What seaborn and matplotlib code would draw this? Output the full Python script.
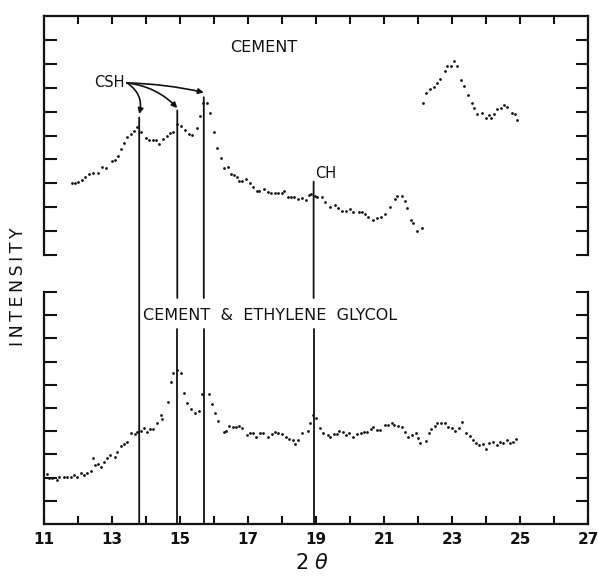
import numpy as np
import pandas as pd
import matplotlib
matplotlib.use("Agg")
import matplotlib.pyplot as plt
import seaborn as sns
from matplotlib.patches import ConnectionPatch
from matplotlib.ticker import FixedLocator

# ---------------- data ----------------
# Top panel (CEMENT), first pen segment
top1_x = [11.81, 11.91, 12.01, 12.11, 12.20, 12.33, 12.45, 12.60, 12.71, 12.82,
          12.99, 13.09, 13.18, 13.26, 13.34, 13.43, 13.55, 13.65, 13.74, 13.86,
          14.00, 14.10, 14.20, 14.29, 14.39, 14.51, 14.61, 14.71, 14.80, 14.90,
          15.02, 15.15, 15.26, 15.36, 15.49, 15.59, 15.69, 15.78, 15.88, 16.01,
          16.08, 16.20, 16.30, 16.40, 16.50, 16.60, 16.67, 16.74, 16.83, 16.93,
          17.06, 17.16, 17.26, 17.32, 17.48, 17.58, 17.68, 17.79, 17.89, 17.99,
          18.07, 18.17, 18.26, 18.36, 18.48, 18.58, 18.70, 18.79, 18.84, 18.97,
          19.04, 19.17, 19.26, 19.41, 19.56, 19.66, 19.76, 19.88, 20.00, 20.10,
          20.25, 20.34, 20.44, 20.54, 20.69, 20.79, 20.90, 21.03, 21.18, 21.32,
          21.39, 21.52, 21.62, 21.69, 21.79, 21.86, 21.98, 22.11]
top1_y = [3.03, 3.03, 3.07, 3.14, 3.26, 3.39, 3.42, 3.42, 3.67, 3.63,
          3.95, 3.97, 4.14, 4.42, 4.67, 4.92, 5.06, 5.20, 5.37, 5.16,
          4.88, 4.81, 4.81, 4.81, 4.64, 4.84, 4.98, 5.12, 5.16, 5.48,
          5.40, 5.23, 5.06, 5.02, 5.30, 5.82, 6.35, 6.35, 5.93, 5.16,
          4.46, 4.05, 3.63, 3.67, 3.39, 3.35, 3.25, 3.10, 3.11, 3.17,
          3.03, 2.83, 2.68, 2.68, 2.75, 2.62, 2.61, 2.61, 2.61, 2.58,
          2.68, 2.44, 2.41, 2.44, 2.33, 2.37, 2.30, 2.51, 2.54, 2.47,
          2.44, 2.41, 2.23, 2.02, 2.09, 1.95, 1.85, 1.85, 1.91, 1.81,
          1.81, 1.81, 1.72, 1.58, 1.46, 1.56, 1.60, 1.72, 2.02, 2.33,
          2.47, 2.47, 2.27, 1.95, 1.46, 1.32, 1.02, 1.12]

# Top panel, second pen segment (offset)
top2_x = [22.14, 22.23, 22.35, 22.47, 22.55, 22.65, 22.79, 22.86, 22.96, 23.06,
          23.16, 23.26, 23.35, 23.47, 23.58, 23.66, 23.73, 23.87, 23.99, 24.09,
          24.15, 24.24, 24.33, 24.44, 24.53, 24.63, 24.77, 24.85, 24.92]
top2_y = [6.37, 6.79, 6.93, 7.02, 7.18, 7.35, 7.71, 7.91, 7.91, 8.13,
          7.91, 7.32, 7.07, 6.69, 6.37, 6.14, 5.90, 5.93, 5.74, 5.86,
          5.72, 5.89, 6.10, 6.16, 6.26, 6.18, 5.95, 5.89, 5.65]

# Bottom panel (CEMENT & ETHYLENE GLYCOL)
bot_x = [11.08, 11.15, 11.24, 11.37, 11.44, 11.59, 11.69, 11.79, 11.88, 11.96,
         12.10, 12.18, 12.27, 12.37, 12.44, 12.49, 12.59, 12.67, 12.76, 12.86,
         12.94, 13.08, 13.16, 13.26, 13.35, 13.45, 13.57, 13.67, 13.74, 13.84,
         13.94, 14.02, 14.12, 14.21, 14.33, 14.43, 14.48, 14.65, 14.73, 14.80,
         14.90, 15.02, 15.12, 15.21, 15.31, 15.44, 15.56, 15.64, 15.86, 15.93,
         16.03, 16.11, 16.29, 16.35, 16.44, 16.55, 16.65, 16.74, 16.81, 16.96,
         17.06, 17.16, 17.24, 17.35, 17.45, 17.60, 17.70, 17.79, 17.89, 17.99,
         18.12, 18.21, 18.31, 18.38, 18.48, 18.60, 18.76, 18.82, 18.92, 18.99,
         19.12, 19.22, 19.34, 19.41, 19.54, 19.61, 19.69, 19.79, 19.88, 19.98,
         20.10, 20.22, 20.32, 20.41, 20.51, 20.62, 20.69, 20.79, 20.88, 21.03,
         21.13, 21.23, 21.30, 21.42, 21.54, 21.62, 21.72, 21.83, 21.94, 21.99,
         22.06, 22.23, 22.33, 22.38, 22.50, 22.57, 22.67, 22.79, 22.89, 23.01,
         23.09, 23.21, 23.29, 23.41, 23.53, 23.61, 23.70, 23.79, 23.90, 24.00,
         24.10, 24.21, 24.31, 24.41, 24.51, 24.61, 24.71, 24.80, 24.88]
bot_y = [2.14, 1.97, 1.97, 1.90, 2.04, 2.04, 2.04, 2.01, 2.11, 2.04,
         2.21, 2.11, 2.18, 2.30, 2.83, 2.54, 2.59, 2.47, 2.69, 2.83,
         2.97, 2.90, 3.12, 3.36, 3.45, 3.55, 3.91, 3.88, 3.98, 4.02,
         4.12, 3.98, 4.08, 4.08, 4.34, 4.70, 4.51, 5.27, 6.13, 6.50,
         6.64, 6.50, 5.63, 5.20, 4.94, 4.77, 4.88, 5.59, 5.60, 5.17,
         4.77, 4.45, 3.98, 4.02, 4.22, 4.19, 4.19, 4.22, 4.12, 3.84,
         3.91, 3.91, 3.74, 3.91, 3.91, 3.74, 3.88, 3.98, 3.94, 3.88,
         3.74, 3.65, 3.62, 3.45, 3.62, 3.91, 4.02, 4.37, 4.70, 4.56,
         4.15, 3.94, 3.84, 3.76, 3.88, 3.88, 4.02, 3.98, 3.84, 3.94,
         3.76, 3.87, 3.91, 3.98, 3.98, 4.08, 4.17, 4.05, 4.05, 4.27,
         4.27, 4.37, 4.27, 4.22, 4.17, 3.98, 3.74, 3.84, 3.94, 3.69,
         3.51, 3.59, 3.91, 4.08, 4.22, 4.34, 4.34, 4.37, 4.17, 4.15,
         4.01, 4.15, 4.41, 3.91, 3.79, 3.62, 3.50, 3.41, 3.44, 3.23,
         3.50, 3.55, 3.41, 3.55, 3.50, 3.62, 3.50, 3.55, 3.65]

# Peak markers
csh_x = [13.80, 14.92, 15.70]
csh_line_top = [5.75, 6.05, 6.60]
csh_arrow_tip = [5.90, 6.15, 6.80]
ch_x = 18.93
ch_line_top = 3.07

x_major = [11, 13, 15, 17, 19, 21, 23, 25, 27]
x_minor = [12, 14, 16, 18, 20, 22, 24, 26]

# ---------------- figure ----------------
sns.set_theme(style="white")
plt.rcParams["font.family"] = ["DejaVu Sans"]
INK = "#111111"

W, H = 599, 581
fig = plt.figure(figsize=(W / 100, H / 100), dpi=100)
ax_top = fig.add_axes([44 / W, 1 - 255 / H, 544 / W, 239 / H])
ax_bot = fig.add_axes([44 / W, 1 - 524 / H, 544 / W, 232 / H])

top_df = pd.DataFrame({"x": top1_x + top2_x, "y": top1_y + top2_y})
bot_df = pd.DataFrame({"x": bot_x, "y": bot_y})

sns.scatterplot(data=top_df, x="x", y="y", ax=ax_top, color=INK, s=4,
                linewidth=0, legend=False)
sns.scatterplot(data=bot_df, x="x", y="y", ax=ax_bot, color=INK, s=4,
                linewidth=0, legend=False)

for ax in (ax_top, ax_bot):
    ax.set_xlim(11, 27)
    ax.set_ylim(0, 10)
    ax.set_xlabel("")
    ax.set_ylabel("")
    for sp in ax.spines.values():
        sp.set_color(INK)
        sp.set_linewidth(1.6)

ax_top.spines["bottom"].set_visible(False)
ax_bot.spines["top"].set_visible(False)

# top panel ticks
ax_top.xaxis.set_major_locator(FixedLocator(list(range(12, 27))))
ax_top.tick_params(axis="x", which="both", bottom=False, top=True,
                   labelbottom=False, labeltop=False, direction="in",
                   length=6, width=1.5, color=INK)
ax_top.yaxis.set_major_locator(FixedLocator(list(range(0, 10))))
ax_top.tick_params(axis="y", left=True, right=True, labelleft=False,
                   labelright=False, direction="in", length=9, width=1.5,
                   color=INK)

# bottom panel ticks
ax_bot.xaxis.set_major_locator(FixedLocator(x_major))
ax_bot.xaxis.set_minor_locator(FixedLocator(x_minor))
ax_bot.set_xticklabels([str(v) for v in x_major], fontsize=11,
                       fontweight="bold", color=INK)
ax_bot.tick_params(axis="x", which="both", bottom=True, top=False,
                   direction="in", length=6, width=1.5, color=INK, pad=6)
ax_bot.yaxis.set_major_locator(FixedLocator(list(range(1, 11))))
ax_bot.tick_params(axis="y", left=True, right=True, labelleft=False,
                   labelright=False, direction="in", length=9, width=1.5,
                   color=INK)

# vertical marker lines
gap_lo, gap_hi = 8.4, 9.74
for i, (x, yt) in enumerate(zip(csh_x + [ch_x], csh_line_top + [ch_line_top])):
    lower = 0 if i == 0 else gap_hi
    con = ConnectionPatch(xyA=(x, yt), coordsA=ax_top.transData,
                          xyB=(x, lower), coordsB=ax_bot.transData,
                          color=INK, lw=1.3)
    fig.add_artist(con)
    if i > 0:
        ax_bot.plot([x, x], [0, gap_lo], color=INK, lw=1.3)

# CSH arrows
csh_origin = (13.44, 7.2)
rads = [-0.35, -0.18, -0.05]
for x, tip, r in zip(csh_x, csh_arrow_tip, rads):
    ax_top.annotate("", xy=(x, tip), xytext=csh_origin,
                    arrowprops=dict(arrowstyle="-|>", color=INK, lw=1.2,
                                    mutation_scale=8, shrinkA=0, shrinkB=0,
                                    connectionstyle=f"arc3,rad={r}"))

# labels
ax_top.text(13.36, 7.2, "CSH", ha="right", va="center", fontsize=10.5, color=INK)
ax_top.text(17.45, 8.7, "CEMENT", ha="center", va="center", fontsize=11.5, color=INK)
ax_top.text(18.98, 3.4, "CH", ha="left", va="center", fontsize=10.5, color=INK)
ax_bot.text(13.9, 8.97, "CEMENT  &  ETHYLENE  GLYCOL", ha="left", va="center",
            fontsize=11.5, color=INK)

fig.text(18 / W, 1 - 287 / H, "I\u2009N\u2009T\u2009E\u2009N\u2009S\u2009I\u2009T\u2009Y",
         rotation=90, ha="center", va="center", fontsize=12.5, color=INK)
fig.text(312 / W, 1 - 563 / H, "2 $\\theta$", ha="center", va="center",
         fontsize=15, color=INK)

fig.savefig("out.png", dpi=100, facecolor="white")
